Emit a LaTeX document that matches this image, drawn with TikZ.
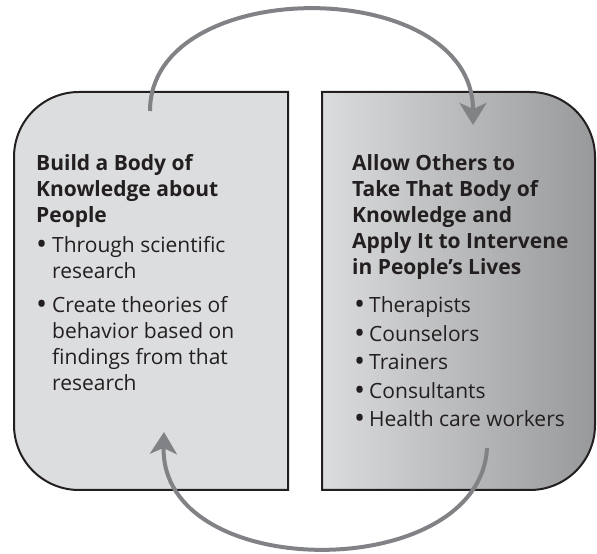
\documentclass[tikz,border=0pt]{standalone}
\usepackage{fontspec}
\usepackage{graphicx}
\setmainfont{Open Sans}
\usetikzlibrary{arrows.meta}

\definecolor{panelgray}{RGB}{220,221,223}
\definecolor{shadelight}{RGB}{219,220,222}
\definecolor{shadedark}{RGB}{152,153,155}
\definecolor{loopgray}{RGB}{128,130,133}
\definecolor{inkblack}{RGB}{35,31,32}

% bigger list bullet
\newcommand{\dotmark}{\raisebox{-2pt}{\scalebox{1.4}{\textbullet}}}

\tikzset{
  panel/.style={draw=inkblack, line width=2pt},
  cyclearrow/.style={draw=loopgray, line width=4pt, -{Stealth[length=22pt, width=27pt, inset=6pt]}},
  heading/.style={anchor=base west, inner sep=0pt, text=inkblack, font=\fontsize{21}{26}\selectfont\bfseries},
  points/.style={anchor=base west, inner sep=0pt, text=inkblack, font=\fontsize{21}{26}\selectfont}
}

\begin{document}
\begin{tikzpicture}[x=1pt, y=1pt]
  \useasboundingbox (0,0) rectangle (597,554);

  % Left panel (rounded on the left side)
  \draw[panel, fill=panelgray] (288,462) -- (79,462)
    arc[start angle=90, end angle=180, radius=65pt] -- (14,129)
    arc[start angle=180, end angle=270, radius=65pt] -- (288,64) -- cycle;

  % Right panel (rounded on the right side, shaded)
  \draw[panel, left color=shadelight, right color=shadedark] (322,462) -- (530,462)
    arc[start angle=90, end angle=0, radius=65pt] -- (595,129)
    arc[start angle=0, end angle=-90, radius=65pt] -- (322,64) -- cycle;

  % Left panel text
  \node[heading] (build-title) at (36,383) {\begin{tabular}[t]{@{}l@{}}
    Build a Body of\\ Knowledge about\\ People\end{tabular}};
  \node[points] (build-list) at (36,301) {\begin{tabular}[t]{@{}p{16pt}@{}l@{}}
    \dotmark & Through scientific\\ & research\\[8pt]
    \dotmark & Create theories of\\ & behavior based on\\
    & findings from that\\ & research\end{tabular}};

  % Right panel text
  \node[heading] (apply-title) at (352,383) {\begin{tabular}[t]{@{}l@{}}
    Allow Others to\\ Take That Body of\\ Knowledge and\\
    Apply It to Intervene\\ in People’s Lives\end{tabular}};
  \node[points, font=\fontsize{21}{28.5}\selectfont] (apply-list) at (354,241)
    {\begin{tabular}[t]{@{}p{15pt}@{}l@{}}
    \dotmark & Therapists\\ \dotmark & Counselors\\
    \dotmark & Trainers\\ \dotmark & Consultants\\
    \dotmark & Health care workers\end{tabular}};

  % Arrow ends
  \coordinate (top-start) at (150,443);
  \coordinate (top-end) at (473,429);
  \coordinate (bottom-start) at (487,106);
  \coordinate (bottom-end) at (164,122);

  % Loop between the panels
  \draw[cyclearrow] (top-start) .. controls (150,580) and (473,580) .. (top-end);
  \draw[cyclearrow] (bottom-start) .. controls (480,-30) and (160,-30) .. (bottom-end);
\end{tikzpicture}
\end{document}
